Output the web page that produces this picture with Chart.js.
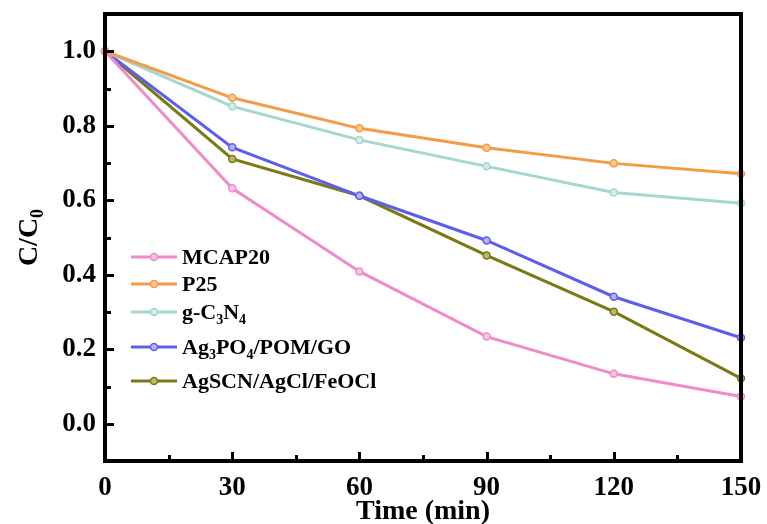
<!DOCTYPE html>
<html>
<head>
<meta charset="utf-8">
<script src="https://cdn.jsdelivr.net/npm/chart.js@4.4.1/dist/chart.umd.min.js"></script>
<style>
html,body{margin:0;padding:0;background:#fff;}
#wrap{position:relative;width:767px;height:524px;}
</style>
</head>
<body>
<div id="wrap"><canvas id="c" width="767" height="524"></canvas></div>
<script>
// ---- data ----
const times = [0, 30, 60, 90, 120, 150];
const mcap20 = [1.0, 0.632, 0.409, 0.234, 0.134, 0.073];
const p25 = [1.0, 0.875, 0.793, 0.741, 0.699, 0.671];
const gC3N4 = [1.0, 0.852, 0.762, 0.691, 0.621, 0.592];
const ag3po4 = [1.0, 0.742, 0.612, 0.492, 0.341, 0.231];
const agscn = [1.0, 0.711, 0.612, 0.452, 0.301, 0.122];
const seriesNames = ["MCAP20", "P25", "g-C3N4", "Ag3PO4/POM/GO", "AgSCN/AgCl/FeOCl"];
// legend label pieces: [text, isSubscript]
const legendParts = [
  [["MCAP20", false]],
  [["P25", false]],
  [["g-C", false], ["3", true], ["N", false], ["4", true]],
  [["Ag", false], ["3", true], ["PO", false], ["4", true], ["/POM/GO", false]],
  [["AgSCN/AgCl/FeOCl", false]]
];
const xTickValues = [0, 30, 60, 90, 120, 150];
const xMinorValues = [15, 45, 75, 105, 135];
const yTickValues = [0.0, 0.2, 0.4, 0.6, 0.8, 1.0];
const yMinorValues = [-0.1, 0.1, 0.3, 0.5, 0.7, 0.9];
const xTitle = "Time (min)";
const yTitleParts = [["C/C", false], ["0", true]];

const colors = ["#F08AC8", "#F59A45", "#A6D6D2", "#5E5EEE", "#7A7A12"];
const fills  = ["#F8C6E4", "#FAC99A", "#D4ECEA", "#B4B4F8", "#B8B870"];
const seriesData = [mcap20, p25, gC3N4, ag3po4, agscn];

const FONT = "'Liberation Serif','Times New Roman',serif";

function drawParts(ctx, x, y, parts, size, subSize, subDrop) {
  let cx = x;
  for (const [t, sub] of parts) {
    ctx.font = "bold " + (sub ? subSize : size) + "px " + FONT;
    ctx.fillText(t, cx, sub ? y + subDrop : y);
    cx += ctx.measureText(t).width;
  }
  return cx - x;
}
function measureParts(ctx, parts, size, subSize) {
  let w = 0;
  for (const [t, sub] of parts) {
    ctx.font = "bold " + (sub ? subSize : size) + "px " + FONT;
    w += ctx.measureText(t).width;
  }
  return w;
}

const decor = {
  id: "decor",
  afterDraw(chart) {
    const ctx = chart.ctx;
    const a = chart.chartArea;
    const xs = chart.scales.x, ys = chart.scales.y;
    ctx.save();
    // frame
    ctx.strokeStyle = "#000";
    ctx.lineWidth = 4;
    ctx.strokeRect(a.left, a.top, a.right - a.left, a.bottom - a.top);
    // ticks (inward, left and bottom)
    ctx.lineWidth = 3;
    ctx.beginPath();
    for (const v of yTickValues) {
      const p = Math.round(ys.getPixelForValue(v)) + 0.5;
      ctx.moveTo(a.left, p); ctx.lineTo(a.left + 9, p);
    }
    for (const v of yMinorValues) {
      const p = Math.round(ys.getPixelForValue(v)) + 0.5;
      ctx.moveTo(a.left, p); ctx.lineTo(a.left + 6, p);
    }
    for (const v of xTickValues) {
      const p = Math.round(xs.getPixelForValue(v)) + 0.5;
      ctx.moveTo(p, a.bottom); ctx.lineTo(p, a.bottom - 9);
    }
    for (const v of xMinorValues) {
      const p = Math.round(xs.getPixelForValue(v)) + 0.5;
      ctx.moveTo(p, a.bottom); ctx.lineTo(p, a.bottom - 6);
    }
    ctx.stroke();

    // axis titles
    ctx.fillStyle = "#000";
    ctx.textBaseline = "alphabetic";
    ctx.textAlign = "left";
    ctx.font = "bold 28px " + FONT;
    const xw = ctx.measureText(xTitle).width;
    ctx.fillText(xTitle, (a.left + a.right) / 2 - xw / 2, 519);

    ctx.save();
    ctx.translate(37, (a.top + a.bottom) / 2);
    ctx.rotate(-Math.PI / 2);
    const yw = measureParts(ctx, yTitleParts, 28, 18);
    drawParts(ctx, -yw / 2, 0, yTitleParts, 28, 18, 6);
    ctx.restore();

    // legend
    const rows = [257, 284, 312, 347, 381];
    const lx0 = 131, lx1 = 177, tx = 182;
    chart.data.datasets.forEach((ds, i) => {
      const y = rows[i];
      ctx.strokeStyle = ds.borderColor;
      ctx.lineWidth = 3;
      ctx.beginPath(); ctx.moveTo(lx0, y); ctx.lineTo(lx1, y); ctx.stroke();
      ctx.beginPath(); ctx.arc((lx0 + lx1) / 2, y, 3.5, 0, Math.PI * 2);
      ctx.fillStyle = ds.pointBackgroundColor; ctx.fill();
      ctx.lineWidth = 1.5; ctx.stroke();
      ctx.fillStyle = "#000";
      drawParts(ctx, tx, y + 7, legendParts[i], 22, 14, 5);
    });
    ctx.restore();
  }
};

new Chart(document.getElementById("c"), {
  type: "line",
  data: {
    labels: times,
    datasets: seriesNames.map((n, i) => ({
      label: n,
      data: times.map((t, j) => ({ x: t, y: seriesData[i][j] })),
      borderColor: colors[i],
      backgroundColor: colors[i],
      pointBackgroundColor: fills[i],
      pointBorderColor: colors[i],
      pointBorderWidth: 1.5,
      pointRadius: 3.5,
      borderWidth: 3,
      tension: 0,
      fill: false,
      clip: false
    }))
  },
  options: {
    responsive: false,
    animation: false,
    devicePixelRatio: 1,
    layout: { padding: { left: 0, right: 26, top: 14, bottom: 0 } },
    plugins: { legend: { display: false }, tooltip: { enabled: false } },
    scales: {
      x: {
        type: "linear", min: 0, max: 150,
        afterBuildTicks: s => { s.ticks = xTickValues.map(v => ({ value: v })); },
        afterFit: s => { s.height = 63; s.paddingLeft = 0; s.paddingRight = 0; },
        grid: { display: false, drawTicks: false },
        border: { display: false },
        ticks: { color: "#000", padding: 11, maxRotation: 0, autoSkip: false,
          font: { family: FONT, size: 27, weight: "bold" }, callback: v => String(v) }
      },
      y: {
        type: "linear", min: -0.1, max: 1.1,
        afterBuildTicks: s => { s.ticks = yTickValues.map(v => ({ value: v })); },
        afterFit: s => { s.width = 105; s.paddingTop = 0; s.paddingBottom = 0; },
        grid: { display: false, drawTicks: false },
        border: { display: false },
        ticks: { color: "#000", padding: 9, autoSkip: false,
          font: { family: FONT, size: 27, weight: "bold" }, callback: v => Number(v).toFixed(1) }
      }
    }
  },
  plugins: [decor]
});
</script>
</body>
</html>
